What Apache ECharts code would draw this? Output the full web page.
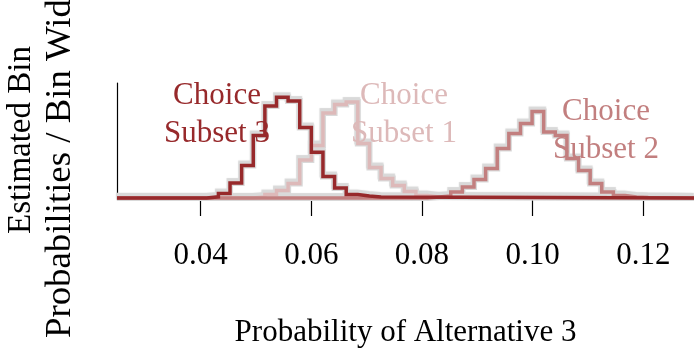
<!DOCTYPE html>
<html>
<head>
<meta charset="utf-8">
<script src="https://cdn.jsdelivr.net/npm/echarts@6/dist/echarts.min.js"></script>
<style>
html,body{margin:0;padding:0;background:#fff;}
#chart{width:694px;height:353px;}
</style>
</head>
<body>
<div id="chart"></div>
<script>
// ---- data ----
const tickValues = [0.04, 0.06, 0.08, 0.10, 0.12];
const xRange = [0.02487, 0.12917];
// histogram bin edges (bin width ~0.0021)
const breaks = [0.0411, 0.0432, 0.0453, 0.0474, 0.0495, 0.0516, 0.0537, 0.0558, 0.0579, 0.0600,
  0.0621, 0.0642, 0.0663, 0.0684, 0.0705, 0.0726, 0.0747, 0.0768, 0.0789, 0.0810,
  0.0831, 0.0852, 0.0873, 0.0894, 0.0915, 0.0936, 0.0957, 0.0978, 0.0999, 0.1020,
  0.1041, 0.1062, 0.1083, 0.1104, 0.1125, 0.1146, 0.1167, 0.1188, 0.1209];
// estimated bin probabilities / bin width; *Start = index of first bin edge
const subset3Start = 0;
const subset3 = [1.0, 3.9, 13.0, 28.3, 54.3, 80.0, 87.7, 84.3, 61.3, 39.8, 18.7, 8.7, 3.0, 1.7, 0.8];
const subset1Start = 4;
const subset1 = [0.9, 3.0, 6.5, 12.6, 33.0, 45.7, 73.9, 81.3, 83.5, 47.4, 26.5, 17.0, 10.9, 5.7, 2.2, 0.9];
const subset2Start = 19;
const subset2 = [0.9, 1.7, 5.2, 9.6, 16.1, 25.7, 43.0, 56.0, 64.8, 75.2, 57.4, 54.3, 34.3, 23.9, 12.6, 5.2, 2.2, 0.9, 0.5];
const seriesNames = ['Choice\nSubset 1', 'Choice\nSubset 2', 'Choice\nSubset 3'];

// ---- build step outlines ----
function steps(start, vals) {
  const pts = [[xRange[0], 0]];
  for (let i = 0; i < vals.length; i++) pts.push([breaks[start + i], vals[i]]);
  pts.push([breaks[start + vals.length], 0]);
  pts.push([xRange[1], 0]);
  return pts;
}
const d1 = steps(subset1Start, subset1);
const d2 = steps(subset2Start, subset2);
const d3 = steps(subset3Start, subset3);

const cols = ['#ddb9b9', '#c27f7f', '#97292b'];
const shadow = '#d9d9d9';
const font = 'Liberation Serif';

function line(data, color, width, z, sh) {
  const ls = {color: color, width: width, join: 'miter', cap: 'butt'};
  if (sh) { ls.shadowColor = color; ls.shadowOffsetY = -2; ls.shadowOffsetX = -0.5; ls.shadowBlur = 1; }
  return {type: 'line', data: data, step: 'end', symbol: 'none', silent: true, z: z,
    lineStyle: ls, animation: false};
}

const chart = echarts.init(document.getElementById('chart'), null, {renderer: 'canvas'});
chart.setOption({
  backgroundColor: '#fff',
  animation: false,
  grid: {left: 117, right: 0, top: 83, height: 117},
  xAxis: {
    type: 'value', min: xRange[0], max: xRange[1],
    axisLine: {show: false},
    splitLine: {show: false},
    axisTick: {show: true, customValues: tickValues, length: 18, lineStyle: {color: '#000', width: 1.2}},
    axisLabel: {customValues: tickValues, formatter: v => v.toFixed(2), margin: 40,
      fontFamily: font, fontSize: 31, color: '#000'},
    name: 'Probability of Alternative 3', nameLocation: 'middle', nameGap: 117,
    nameTextStyle: {fontFamily: font, fontSize: 31, color: '#000'}
  },
  yAxis: {
    type: 'value', min: -1.74, max: 100,
    axisLine: {show: true, lineStyle: {color: '#000', width: 1.2}},
    axisTick: {show: false}, axisLabel: {show: false}, splitLine: {show: false}
  },
  series: [
    line(d1, shadow, 6, 1, true), line(d2, shadow, 6, 1, true), line(d3, shadow, 6, 1, true),
    line(d1, cols[0], 3.5, 2), line(d2, cols[1], 3.5, 3), line(d3, cols[2], 3.5, 4)
  ],
  graphic: [
    {type: 'text', x: 217, y: 115, z: 10, style: {text: seriesNames[2], font: '31px "Liberation Serif"', fill: cols[2], align: 'center', verticalAlign: 'middle', lineHeight: 38}},
    {type: 'text', x: 404, y: 115, z: 10, style: {text: seriesNames[0], font: '31px "Liberation Serif"', fill: cols[0], align: 'center', verticalAlign: 'middle', lineHeight: 38}},
    {type: 'text', x: 606, y: 131, z: 10, style: {text: seriesNames[1], font: '31px "Liberation Serif"', fill: cols[1], align: 'center', verticalAlign: 'middle', lineHeight: 38}},
    {type: 'text', x: 21, y: 140, rotation: Math.PI / 2, style: {text: 'Estimated Bin', font: '33px "Liberation Serif"', fill: '#000', align: 'center', verticalAlign: 'middle'}},
    {type: 'text', x: 60, y: 338, rotation: Math.PI / 2, style: {text: 'Probabilities / Bin Width', font: '36.8px "Liberation Serif"', fill: '#000', align: 'left', verticalAlign: 'middle'}}
  ]
});
</script>
</body>
</html>
